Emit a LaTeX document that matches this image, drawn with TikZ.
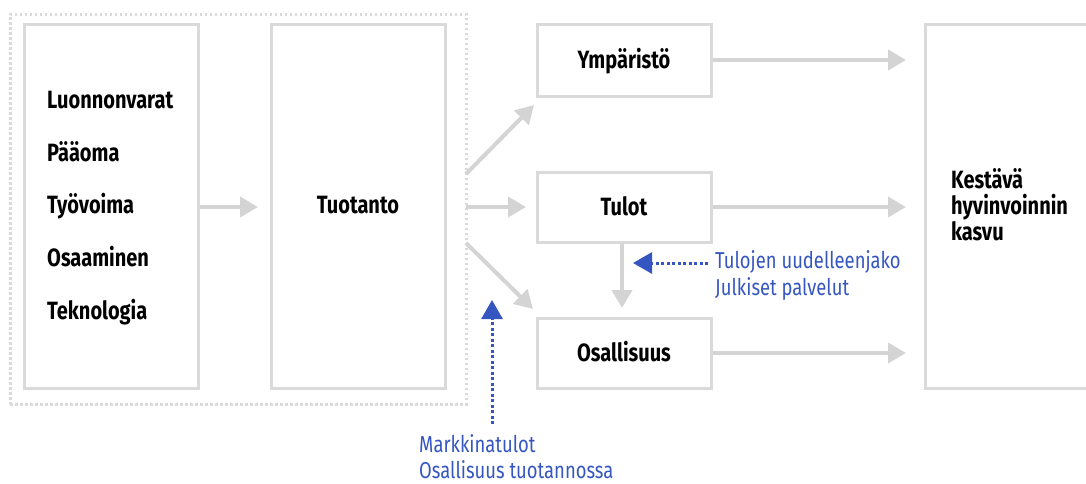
\documentclass[tikz,border=0pt]{standalone}
\usepackage{fontspec}
\setmainfont{Fira Sans}[FakeStretch=0.8]
\usetikzlibrary{arrows.meta}
\definecolor{lgray}{HTML}{DADADA}
\definecolor{dgray}{HTML}{D4D4D4}
\definecolor{myblue}{HTML}{3556C0}
\tikzset{
  box/.style={draw=lgray, line width=3pt, rectangle, inner sep=0pt},
  lbl/.style={font=\fontsize{25}{28}\selectfont\bfseries, text=black, inner sep=0pt},
  bl/.style={font=\fontsize{23}{26}\selectfont, text=myblue, inner sep=0pt, anchor=base west},
  garrow/.style={draw=dgray, line width=4pt, -{Triangle[width=20pt,length=18pt]}},
  barrow/.style={draw=myblue, line width=3pt, dash pattern=on 3pt off 2.5pt, -{Triangle[width=21pt,length=19pt]}},
}
\begin{document}
\begin{tikzpicture}[x=1pt,y=-1pt]
\useasboundingbox (0,0) rectangle (1086,483);
% outer dotted frame
\node[draw=lgray, line width=3pt, dash pattern=on 2.5pt off 2.5pt, minimum width=456pt, minimum height=390pt, inner sep=0pt] (frame) at (238,209) {};
% boxes
\node[box, minimum width=174pt, minimum height=364pt] (in) at (111,206) {};
\node[box, minimum width=174pt, minimum height=364pt] (prod) at (358,206) {};
\node[box, minimum width=174pt, minimum height=72pt] (env) at (624,60) {};
\node[box, minimum width=174pt, minimum height=70pt] (inc) at (624,207) {};
\node[box, minimum width=174pt, minimum height=70pt] (part) at (624,353) {};
\node[box, minimum width=170pt, minimum height=364pt] (well) at (1010,206) {};
% texts
\node[lbl, anchor=base west] (t1) at (47,108) {Luonnonvarat};
\node[lbl, anchor=base west] (t2) at (47,161) {Pääoma};
\node[lbl, anchor=base west] (t3) at (47,213) {Työvoima};
\node[lbl, anchor=base west] (t4) at (47,266) {Osaaminen};
\node[lbl, anchor=base west] (t5) at (47,319) {Teknologia};
\node[lbl, anchor=base] (tp) at (358,213) {Tuotanto};
\node[lbl, anchor=base] (te) at (624,68) {Ympäristö};
\node[lbl, anchor=base] (ti) at (624,215) {Tulot};
\node[lbl, anchor=base] (tq) at (624,361) {Osallisuus};
\node[lbl, anchor=base west] (w1) at (951,188) {Kestävä};
\node[lbl, anchor=base west] (w2) at (951,214) {hyvinvoinnin};
\node[lbl, anchor=base west] (w3) at (951,240) {kasvu};
\node[bl] (b1) at (715,268) {Tulojen uudelleenjako};
\node[bl] (b2) at (715,295) {Julkiset palvelut};
\node[bl] (b3) at (419,452) {Markkinatulot};
\node[bl] (b4) at (419,478) {Osallisuus tuotannossa};
% coordinates
\coordinate (a1s) at (466,174);
\coordinate (a1e) at (534,105);
\coordinate (a2s) at (466,207);
\coordinate (a2e) at (526,207);
\coordinate (a3s) at (466,243);
\coordinate (a3e) at (533,309);
\coordinate (ie) at (258,207);
\coordinate (e1) at (906,60);
\coordinate (e2) at (906,207);
\coordinate (e3) at (906,353);
\coordinate (vd) at (622,308);
\coordinate (bs1) at (708,263);
\coordinate (bt1) at (633,263);
\coordinate (bs2) at (492,424);
\coordinate (bt2) at (492,300);
% arrows
\draw[garrow] (in.east |- ie) -- (ie);
\draw[garrow] (a1s) -- (a1e);
\draw[garrow] (a2s) -- (a2e);
\draw[garrow] (a3s) -- (a3e);
\draw[garrow] (env.east) -- (e1);
\draw[garrow] (inc.east) -- (e2);
\draw[garrow] (part.east) -- (e3);
\draw[garrow] (inc.south -| vd) -- (vd);
\draw[barrow] (bs1) -- (bt1);
\draw[barrow] (bs2) -- (bt2);
\end{tikzpicture}
\end{document}
